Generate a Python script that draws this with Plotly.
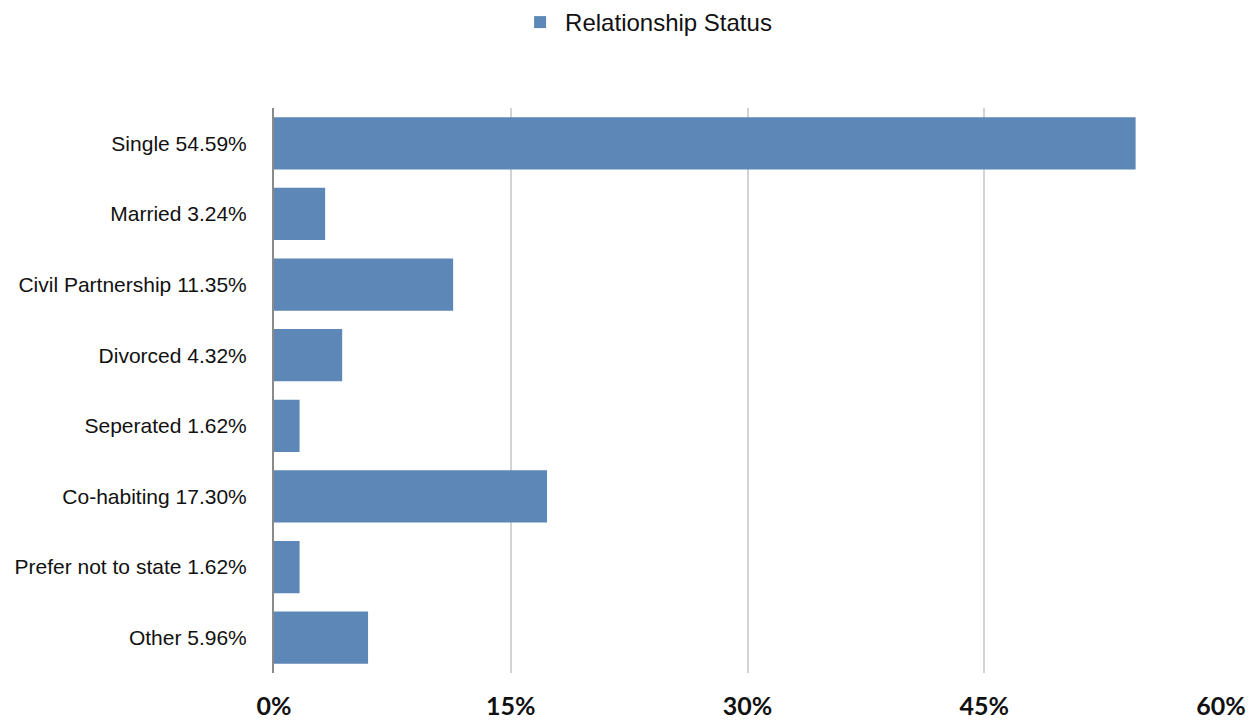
import plotly.graph_objects as go

# Survey responses: relationship status share (%)
statuses = ["Single", "Married", "Civil Partnership", "Divorced",
            "Seperated", "Co-habiting", "Prefer not to state", "Other"]
shares = [54.59, 3.24, 11.35, 4.32, 1.62, 17.30, 1.62, 5.96]

x_ticks = [0, 15, 30, 45, 60]
x_tick_text = [f"{t}%" for t in x_ticks]

labels = [f"{s} {v:.2f}%" for s, v in zip(statuses, shares)]

fig = go.Figure(
    go.Bar(
        x=shares,
        y=labels,
        orientation="h",
        name="Relationship Status",
        marker=dict(color="#5d87b6", line=dict(width=0)),
        showlegend=True,
    )
)

fig.update_layout(
    width=1257,
    height=720,
    margin=dict(l=274, r=36, t=108, b=47, autoexpand=False),
    paper_bgcolor="white",
    plot_bgcolor="white",
    bargap=0.26,
    font=dict(family="Liberation Sans, Arial, sans-serif", color="#111"),
    legend=dict(
        orientation="h",
        xref="container",
        yref="container",
        x=0.514,
        xanchor="center",
        y=1.0,
        yanchor="top",
        itemwidth=40,
        font=dict(size=24, family="Liberation Sans, Arial, sans-serif", color="#111"),
    ),
    xaxis=dict(
        range=[0, 60],
        tickmode="array",
        tickvals=x_ticks,
        ticktext=x_tick_text,
        showgrid=True,
        gridcolor="#d3d3d3",
        gridwidth=2,
        zeroline=False,
        showline=False,
        ticks="",
        automargin=False,
        tickfont=dict(size=25, family="Lato, DejaVu Sans, sans-serif",
                      weight="bold", color="#111"),
        ticklabelstandoff=16,
    ),
    yaxis=dict(
        autorange="reversed",
        showgrid=False,
        showline=True,
        linecolor="#8a8a8a",
        linewidth=2,
        ticks="",
        automargin=False,
        ticklabelstandoff=21,
        tickfont=dict(size=21, family="Liberation Sans, Arial, sans-serif", color="#111"),
    ),
)

fig.write_html("out.html")
